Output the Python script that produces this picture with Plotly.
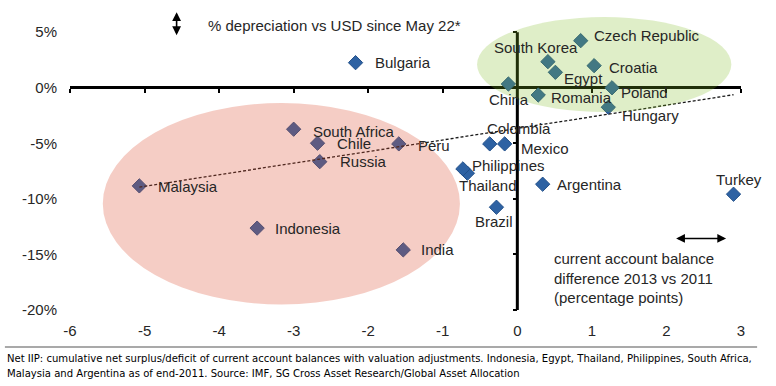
import numpy as np
import plotly.graph_objects as go

# ---------------- data ----------------
countries = ["Czech Republic", "South Korea", "Egypt", "Croatia", "China", "Romania",
             "Poland", "Hungary", "Colombia", "Mexico", "Peru", "Bulgaria",
             "South Africa", "Chile", "Russia", "Malaysia", "Indonesia", "India",
             "Thailand", "Philippines", "Argentina", "Brazil", "Turkey"]
ca_change = [0.85, 0.41, 0.51, 1.03, -0.12, 0.28,
             1.27, 1.22, -0.37, -0.17, -1.59, -2.17,
             -3.00, -2.68, -2.65, -5.07, -3.49, -1.53,
             -0.67, -0.73, 0.34, -0.28, 2.90]
fx_change = [4.24, 2.35, 1.39, 1.99, 0.34, -0.65,
             0.00, -1.75, -5.05, -5.05, -5.05, 2.26,
             -3.73, -4.99, -6.65, -8.83, -12.63, -14.59,
             -7.69, -7.30, -8.68, -10.75, -9.58]
x_ticks = [-6, -5, -4, -3, -2, -1, 0, 1, 2, 3]
y_ticks = [-20, -15, -10, -5, 0, 5]

# ---------------- layout helpers (positions / styles) ----------------
label_pos = {  # (xshift px, yshift px, xanchor)
    "Czech Republic": (11, 5, "left"), "South Korea": (-12, 14, "center"),
    "Egypt": (7, -6, "left"), "Croatia": (13, -2, "left"),
    "China": (1, -15, "center"), "Romania": (11, -2, "left"),
    "Poland": (7, -5, "left"), "Hungary": (12, -8, "left"),
    "Colombia": (-5, 15, "left"), "Mexico": (14, -5, "left"),
    "Peru": (17, -2, "left"), "Bulgaria": (17, 0, "left"),
    "South Africa": (17, -2, "left"), "Chile": (17, 0, "left"),
    "Russia": (18, 0, "left"), "Malaysia": (17, -1, "left"),
    "Indonesia": (16, 0, "left"), "India": (16, 0, "left"),
    "Thailand": (-10, -12, "left"), "Philippines": (7, 3, "left"),
    "Argentina": (12, 0, "left"), "Brazil": (-2, -14, "center"),
    "Turkey": (5, 15, "center"),
}
xmin, xmax = -6, 3
ymin, ymax = -20, 7
FONT = "Liberation Sans, Arial, sans-serif"
NARROW = "Liberation Sans Narrow, DejaVu Sans Condensed, Arial Narrow, sans-serif"
TXT = "#262626"

fig = go.Figure()

fig.add_trace(go.Scatter(
    x=ca_change, y=fx_change, mode="markers",
    marker=dict(symbol="diamond", size=11, color="#2e62a3",
                line=dict(color="#22508a", width=1)),
    hoverinfo="text", text=countries, showlegend=False))

# linear trend line (OLS fit of the data)
coef = np.polyfit(ca_change, fx_change, 1)
tx = [min(ca_change), max(ca_change)]
fig.add_trace(go.Scatter(
    x=tx, y=list(np.polyval(coef, tx)), mode="lines",
    line=dict(color="#1a1a1a", width=1.3, dash="3px,2px"),
    hoverinfo="skip", showlegend=False))

# invisible trace to host the tick-only axes crossing at zero
fig.add_trace(go.Scatter(
    x=ca_change, y=fx_change, xaxis="x2", yaxis="y2", mode="markers",
    marker=dict(opacity=0), hoverinfo="skip", showlegend=False))

annotations = []
for name, xv, yv in zip(countries, ca_change, fx_change):
    dx, dy, anc = label_pos[name]
    annotations.append(dict(x=xv, y=yv, xref="x", yref="y", text=name, showarrow=False,
                            xanchor=anc, yanchor="middle", xshift=dx, yshift=dy,
                            font=dict(family=FONT, size=15, color=TXT)))

annotations += [
    dict(x=-4.18, y=5.65, xref="x", yref="y", text="% depreciation vs USD since May 22*",
         showarrow=False, xanchor="left", yanchor="middle",
         font=dict(family=FONT, size=15, color=TXT)),
    dict(x=-4.57, y=6.8, ax=-4.57, ay=4.6, xref="x", yref="y", axref="x", ayref="y",
         text="", showarrow=True, arrowside="end+start", arrowhead=2, arrowsize=1.1,
         arrowwidth=1.6, arrowcolor="black"),
    dict(x=2.8, y=-13.56, ax=2.11, ay=-13.56, xref="x", yref="y", axref="x", ayref="y",
         text="", showarrow=True, arrowside="end+start", arrowhead=2, arrowsize=1.1,
         arrowwidth=1.6, arrowcolor="black"),
    dict(x=0.47, y=-17.1, xref="x", yref="y",
         text="current account balance<br>difference 2013 vs 2011<br>(percentage points)",
         showarrow=False, xanchor="left", yanchor="middle", align="left",
         font=dict(family=FONT, size=15, color=TXT)),
    dict(x=-0.097, y=-0.133, xref="paper", yref="paper",
         text="Net IIP: cumulative net surplus/deficit of current account balances with valuation adjustments. "
              "Indonesia, Egypt, Thailand, Philippines, South Africa,<br>"
              "Malaysia and Argentina as of end-2011. Source: IMF, SG Cross Asset Research/Global Asset Allocation",
         showarrow=False, xanchor="left", yanchor="top", align="left",
         font=dict(family=NARROW, size=11.2, color="black")),
]

shapes = [
    # vertical axis line at x = 0, spanning the tick range
    dict(type="line", xref="x", yref="y", x0=0, x1=0, y0=min(y_ticks), y1=max(y_ticks),
         line=dict(color="black", width=3), layer="above"),
    # pink ellipse (deficit countries)
    dict(type="circle", xref="x", yref="y", x0=-5.56, x1=-0.77, y0=-1.37, y1=-19.5,
         fillcolor="rgb(219,77,45)", opacity=0.28, line=dict(width=0), layer="above"),
    # green ellipse (CEE / surplus)
    dict(type="circle", xref="x", yref="y", x0=-0.54, x1=2.87, y0=6.37, y1=-2.18,
         fillcolor="rgb(127,187,35)", opacity=0.25, line=dict(width=0), layer="above"),
    # separator line above footnote
    dict(type="line", xref="paper", yref="paper", x0=-0.097, x1=1.024, y0=-0.123, y1=-0.123,
         line=dict(color="#8c8c8c", width=1.5)),
]

fig.update_layout(
    width=776, height=386,
    margin=dict(l=70, r=35, t=10, b=76),
    paper_bgcolor="white", plot_bgcolor="white",
    showlegend=False,
    xaxis=dict(range=[xmin, xmax], tickvals=x_ticks, ticktext=[str(v) for v in x_ticks],
               showgrid=False, showline=False, ticks="", zeroline=False,
               ticklabelstandoff=10,
               tickfont=dict(family=FONT, size=15, color=TXT)),
    yaxis=dict(range=[ymin, ymax], tickvals=y_ticks, ticktext=[f"{v}%" for v in y_ticks],
               showgrid=False, showline=False, ticks="",
               zeroline=True, zerolinecolor="black", zerolinewidth=3,
               ticklabelstandoff=12,
               tickfont=dict(family=FONT, size=15, color=TXT)),
    xaxis2=dict(overlaying="x", matches="x", anchor="free",
                position=(0 - ymin) / (ymax - ymin), side="bottom",
                tickvals=x_ticks, showticklabels=False, ticks="outside",
                ticklen=4, tickwidth=1.5, tickcolor="black",
                showgrid=False, showline=False, zeroline=False),
    yaxis2=dict(overlaying="y", matches="y", anchor="free",
                position=(0 - xmin) / (xmax - xmin), side="left",
                tickvals=y_ticks, showticklabels=False, ticks="outside",
                ticklen=4, tickwidth=1.5, tickcolor="black",
                showgrid=False, showline=False, zeroline=False),
    annotations=annotations,
    shapes=shapes,
)

fig.write_html("out.html", config={"displayModeBar": False},
               post_script="document.body.style.margin='0px';")
